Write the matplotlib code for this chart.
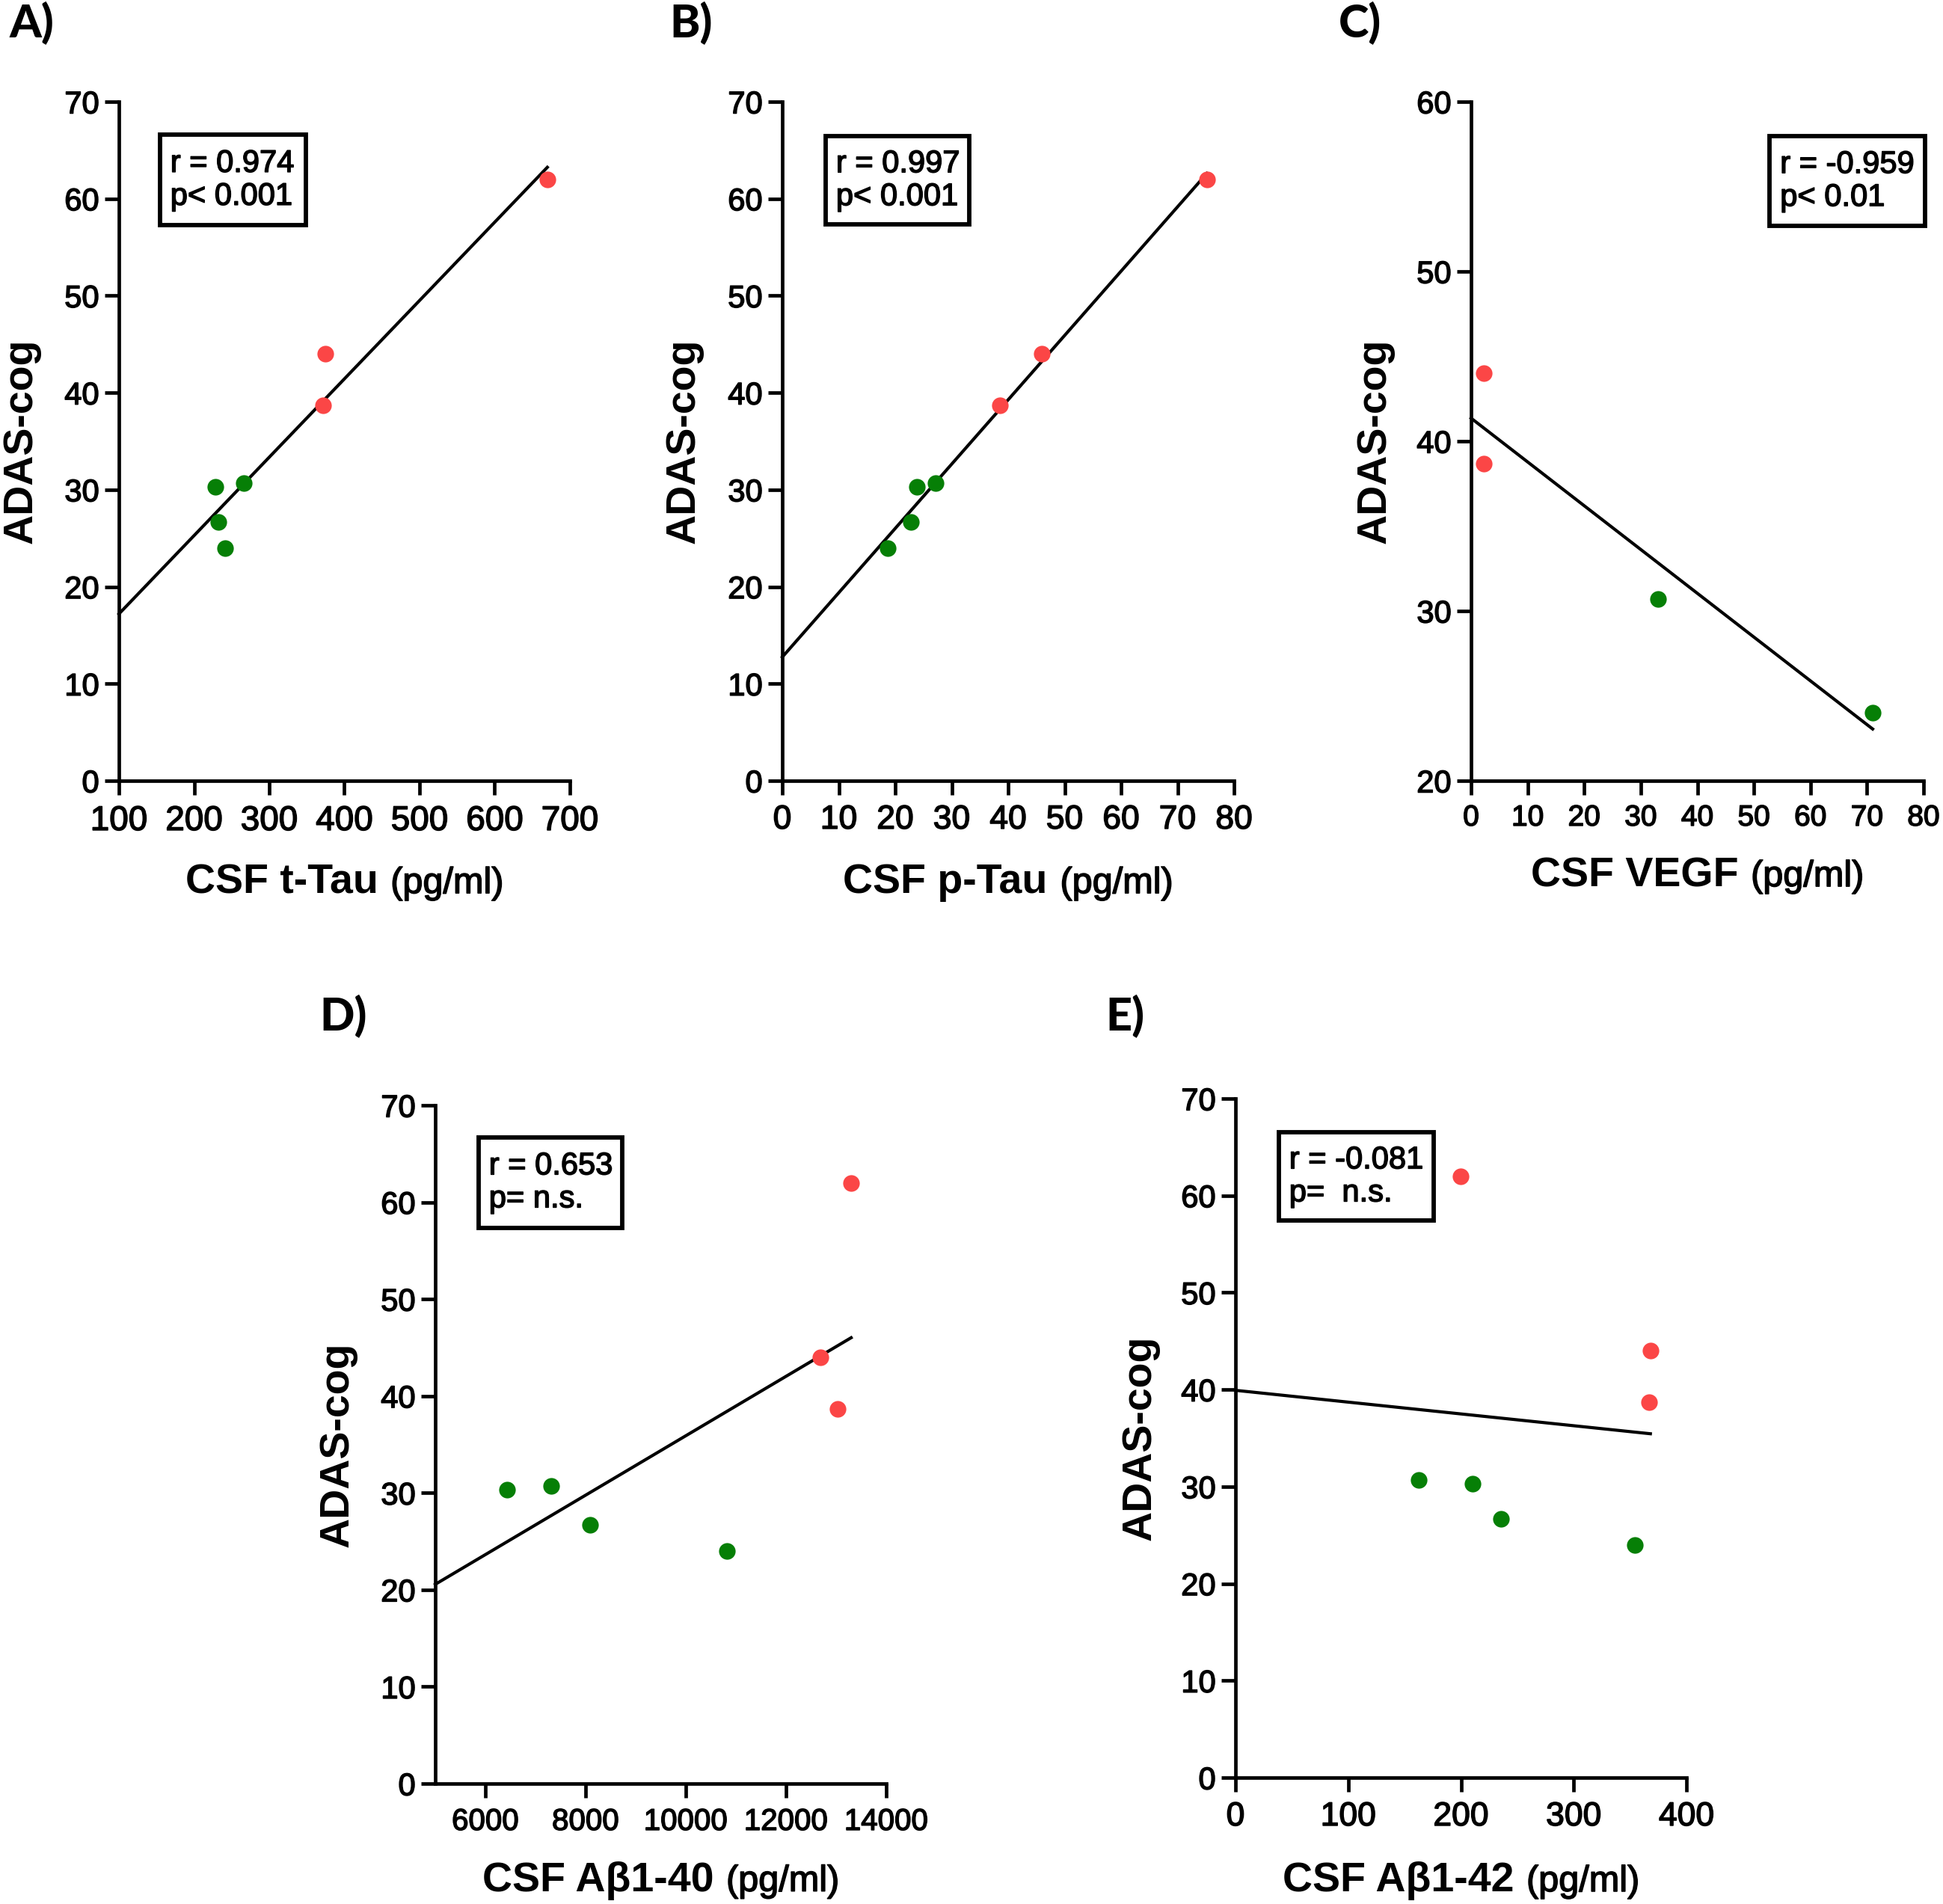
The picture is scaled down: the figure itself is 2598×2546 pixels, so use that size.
import matplotlib.pyplot as plt
import numpy as np
import matplotlib.patheffects as pe
from matplotlib.patches import Rectangle
from matplotlib.offsetbox import TextArea, HPacker, AnnotationBbox

plt.rcParams['font.family'] = ['Liberation Sans', 'DejaVu Sans']

RED = '#fb4646'
GREEN = '#067f06'
thick = [pe.withStroke(linewidth=1.1, foreground='black')]

# ADAS-cog of the patients (red = AD group, green = other)
adas_red = [62, 44, 38.7]
adas_green = [30.3, 30.7, 26.7, 24.0]

# A) CSF t-Tau
ttau_red = [670, 375, 372]
ttau_green = [228, 266, 232, 241]

# B) CSF p-Tau
ptau_red = [75.2, 45.9, 38.5]
ptau_green = [23.9, 27.1, 22.8, 18.7]

# C) CSF VEGF (only 4 patients)
vegf_red = [2.3, 2.3]
vegf_adas_red = [44, 38.7]
vegf_green = [33.1, 71.0]
vegf_adas_green = [30.7, 24.0]

# D) CSF Abeta 1-40
ab40_red = [13300, 12680, 13030]
ab40_green = [6435, 7307, 8092, 10825]

# E) CSF Abeta 1-42
ab42_red = [199.4, 368, 366.6]
ab42_green = [210.4, 162.3, 235.4, 354.5]

W, H = 2598, 2546
fig = plt.figure(figsize=(W / 100, H / 100), dpi=100)


def panel(rect, xr, yr, xg, yg, xlim, xticks, ylim, yticks, name, stats,
          box, letter, letter_pos, xtick_fs, xlab_y, ylab_x):
    ax = fig.add_axes(rect)
    x_all = np.array(list(xr) + list(xg))
    y_all = np.array(list(yr) + list(yg))
    k, b = np.polyfit(x_all, y_all, 1)
    xs = np.array([xlim[0], x_all.max()])
    ax.plot(xs, k * xs + b, color='black', lw=3.0, zorder=2, clip_on=False)
    ax.plot(xr, yr, 'o', color=RED, ms=16, mew=0, zorder=3, clip_on=False)
    ax.plot(xg, yg, 'o', color=GREEN, ms=16, mew=0, zorder=3, clip_on=False)

    ax.set_xlim(xlim)
    ax.set_ylim(ylim)
    ax.set_xticks(xticks)
    ax.set_yticks(yticks)
    for s in ['top', 'right']:
        ax.spines[s].set_visible(False)
    for s in ['left', 'bottom']:
        ax.spines[s].set_linewidth(3.4)
    ax.tick_params(direction='out', length=14, width=3.4)
    ax.tick_params(axis='y', labelsize=30, pad=5)
    ax.tick_params(axis='x', labelsize=xtick_fs, pad=9)
    for lab in ax.get_xticklabels() + ax.get_yticklabels():
        lab.set_path_effects(thick)

    ax.set_ylabel('ADAS-cog', fontsize=40, fontweight='bold', va='center')
    ax.yaxis.set_label_coords(ylab_x, 0.5)

    t1 = TextArea(name, textprops=dict(fontsize=40, fontweight='bold'))
    t2 = TextArea('(pg/ml)', textprops=dict(fontsize=35, path_effects=thick))
    pack = HPacker(children=[t1, t2], align='baseline', pad=0, sep=12)
    ab = AnnotationBbox(pack, (0.5, xlab_y), xycoords='axes fraction',
                        frameon=False, box_alignment=(0.5, 0.5),
                        annotation_clip=False)
    ax.add_artist(ab)

    bx, by, bw, bh = box
    ax.add_patch(Rectangle((bx, by), bw, bh, transform=ax.transAxes,
                           fill=True, facecolor='white', edgecolor='black',
                           lw=4.2, clip_on=False, zorder=4))
    ax.text(bx + 0.023, by + bh / 2, stats, transform=ax.transAxes,
            fontsize=30, va='center', ha='left', linespacing=1.13, zorder=5,
            path_effects=thick)

    fig.text(letter_pos[0] / W, 1 - letter_pos[1] / H, letter,
             fontsize=44, fontweight='black', family=['Lato', 'DejaVu Sans'],
             ha='left', va='center')
    return ax


top_y = 1 - 1044 / H
top_h = (1044 - 136) / H

panel([159 / W, top_y, 603 / W, top_h], ttau_red, adas_red, ttau_green, adas_green,
      (100, 700), range(100, 701, 100), (0, 70), range(0, 71, 10),
      'CSF t-Tau', 'r = 0.974\np< 0.001', (0.091, 0.818, 0.324, 0.133),
      'A)', (13, 31), 33, -0.150, -0.217)

panel([1046 / W, top_y, 604 / W, top_h], ptau_red, adas_red, ptau_green, adas_green,
      (0, 80), range(0, 81, 10), (0, 70), range(0, 71, 10),
      'CSF p-Tau', 'r = 0.997\np< 0.001', (0.096, 0.819, 0.318, 0.130),
      'B)', (895, 31), 32, -0.150, -0.217)

panel([1967 / W, top_y, 605 / W, top_h], vegf_red, vegf_adas_red, vegf_green, vegf_adas_green,
      (0, 80), range(0, 81, 10), (20, 60), range(20, 61, 10),
      'CSF VEGF', 'r = -0.959\np< 0.01', (0.660, 0.817, 0.343, 0.132),
      'C)', (1790, 31), 28, -0.140, -0.212)

panel([582 / W, 1 - 2385 / H, 603 / W, (2385 - 1478) / H], ab40_red, adas_red, ab40_green, adas_green,
      (5000, 14000), range(6000, 14001, 2000), (0, 70), range(0, 71, 10),
      'CSF Aβ1-40', 'r = 0.653\np= n.s.', (0.096, 0.819, 0.318, 0.134),
      'D)', (427, 1359), 29, -0.143, -0.216)

panel([1652 / W, 1 - 2377 / H, 603 / W, (2377 - 1469) / H], ab42_red, adas_red, ab42_green, adas_green,
      (0, 400), range(0, 401, 100), (0, 70), range(0, 71, 10),
      'CSF Aβ1-42', 'r = -0.081\np=  n.s.', (0.096, 0.820, 0.343, 0.130),
      'E)', (1478, 1359), 32, -0.152, -0.212)

fig.savefig('out.png', dpi=100)
